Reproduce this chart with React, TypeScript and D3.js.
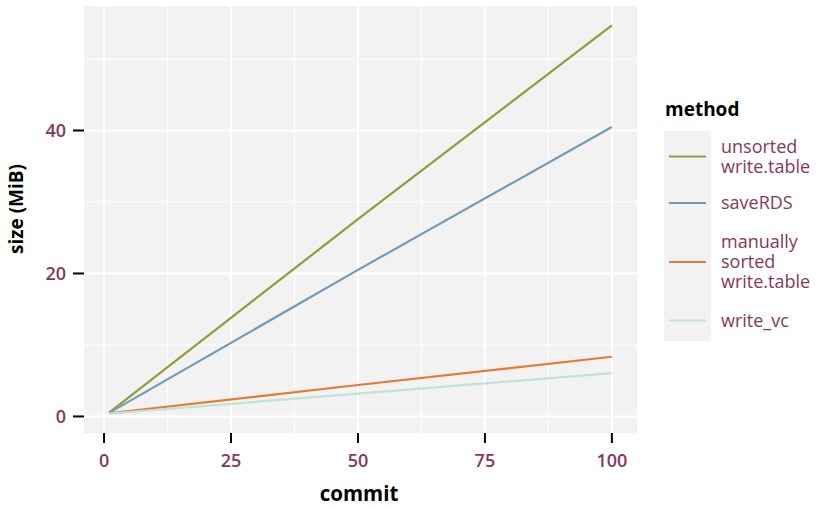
import React from "react";
import * as d3 from "d3";

const methods = ["unsorted write.table", "saveRDS", "manually sorted write.table", "write_vc"];
const legendLines = [["unsorted", "write.table"], ["saveRDS"], ["manually", "sorted", "write.table"], ["write_vc"]];
const colors = ["#959B38", "#729BB7", "#E87837", "#C1E2D6"];
const commits = [1, 50, 100];
const unsortedValues = [0.55, 27.6, 54.7];
const saveRDSValues = [0.5, 20.5, 40.5];
const sortedValues = [0.45, 4.4, 8.35];
const writeVcValues = [0.4, 3.2, 6.05];
const seriesValues = [unsortedValues, saveRDSValues, sortedValues, writeVcValues];
const xTicks = [0, 25, 50, 75, 100];
const yTicks = [0, 20, 40];
const xMinor = [12.5, 37.5, 62.5, 87.5];
const yMinor = [10, 30, 50];

const W = 827, H = 508;
const panel = { left: 84, right: 637, top: 6, bottom: 433 };
const tickColor = "#843860";
const font = "'Open Sans', Lato, sans-serif";

export default function App() {
  const allX = commits;
  const allY = seriesValues.flat();
  const [x0, x1] = d3.extent(allX) as [number, number];
  const [y0, y1] = d3.extent(allY) as [number, number];
  const ex = (x1 - x0) * 0.05, ey = (y1 - y0) * 0.05;
  const x = d3.scaleLinear().domain([x0 - ex, x1 + ex]).range([panel.left, panel.right]);
  const y = d3.scaleLinear().domain([y0 - ey, y1 + ey]).range([panel.bottom, panel.top]);
  const line = d3.line<[number, number]>().x(d => x(d[0])).y(d => y(d[1]));

  const legendX = 664, keyRight = 711;
  const keyTops = [131, 182, 224, 300];
  const keyHeights = [51, 42, 76, 41];

  return (
    <svg width={W} height={H} style={{ position: "absolute", left: 0, top: 0, background: "#fff" }} fontFamily={font}>
      <rect x={panel.left} y={panel.top} width={panel.right - panel.left} height={panel.bottom - panel.top} fill="#F2F2F2" />
      {xMinor.map(v => <line key={"xm" + v} x1={x(v)} x2={x(v)} y1={panel.top} y2={panel.bottom} stroke="#fff" strokeWidth={1} />)}
      {yMinor.map(v => <line key={"ym" + v} y1={y(v)} y2={y(v)} x1={panel.left} x2={panel.right} stroke="#fff" strokeWidth={1} />)}
      {xTicks.map(v => <line key={"xg" + v} x1={x(v)} x2={x(v)} y1={panel.top} y2={panel.bottom} stroke="#fff" strokeWidth={2} />)}
      {yTicks.map(v => <line key={"yg" + v} y1={y(v)} y2={y(v)} x1={panel.left} x2={panel.right} stroke="#fff" strokeWidth={2} />)}
      {seriesValues.map((vals, i) => (
        <path key={methods[i]} d={line(commits.map((c, j) => [c, vals[j]]) as [number, number][]) || ""} fill="none" stroke={colors[i]} strokeWidth={2.2} />
      ))}
      {xTicks.map(v => (
        <g key={"xt" + v}>
          <line x1={x(v)} x2={x(v)} y1={panel.bottom} y2={panel.bottom + 10} stroke="#000" strokeWidth={2} />
          <text x={x(v)} y={467} textAnchor="middle" fill={tickColor} fontSize={18} fontWeight={600}>{v}</text>
        </g>
      ))}
      {yTicks.map(v => (
        <g key={"yt" + v}>
          <line x1={panel.left - 11} x2={panel.left} y1={y(v)} y2={y(v)} stroke="#000" strokeWidth={2} />
          <text x={66} y={y(v)} dy="0.36em" textAnchor="end" fill={tickColor} fontSize={18} fontWeight={600}>{v}</text>
        </g>
      ))}
      <text x={359} y={501} textAnchor="middle" fontSize={20.5} fontWeight="bold" fill="#000">commit</text>
      <text transform={`translate(23,209) rotate(-90)`} textAnchor="middle" fontSize={19} fontWeight="bold" fill="#000">size (MiB)</text>
      <text x={665} y={116} fontSize={19} fontWeight="bold" fill="#000">method</text>
      <rect x={legendX} y={131} width={keyRight - legendX} height={210} fill="#F2F2F2" />
      {legendLines.map((lines, i) => {
        const top = keyTops[i];
        const mid = top + keyHeights[i] / 2;
        const first = mid - (lines.length - 1) * 10;
        return (
          <g key={"lg" + i}>
            <line x1={669} x2={706} y1={mid} y2={mid} stroke={colors[i]} strokeWidth={2.2} />
            {lines.map((t, k) => (
              <text key={k} x={721} y={first + k * 20} dy="0.36em" fill={tickColor} fontSize={18} fontWeight={500}>{t}</text>
            ))}
          </g>
        );
      })}
    </svg>
  );
}
